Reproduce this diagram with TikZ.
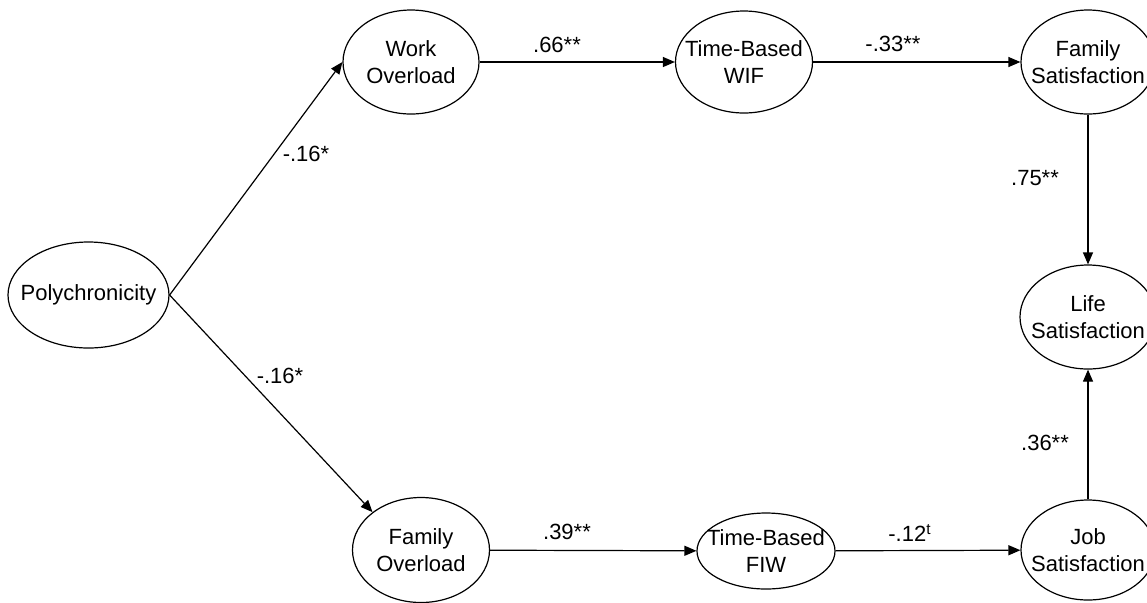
\documentclass[tikz,border=0pt]{standalone}
\usepackage{fontspec}
\setmainfont{Liberation Sans}
\usetikzlibrary{shapes.geometric,arrows.meta}
\begin{document}
\begin{tikzpicture}[x=0.5pt,y=-0.5pt,
  lat/.style={ellipse,draw,line width=0.6pt,inner xsep=-16pt,inner ysep=0pt,align=center,
              font=\fontsize{11}{13.3}\selectfont},
  pathline/.style={draw,line width=0.6pt,-{Triangle[length=6pt,width=5pt]}},
  coef/.style={font=\fontsize{11}{13.3}\selectfont,inner sep=0pt}]
\useasboundingbox (0,0) rectangle (1147,602);
\node[lat,minimum width=80.5pt,minimum height=53pt] (poly) at (88.5,295) {Polychronicity};
\node[lat,minimum width=68pt,minimum height=52pt] (work) at (411,62) {Work\\Overload};
\node[lat,minimum width=68.5pt,minimum height=51pt] (wif) at (744,62) {Time-Based\\WIF};
\node[lat,minimum width=67pt,minimum height=52pt] (famsat) at (1088,62) {Family\\Satisfaction};
\node[lat,minimum width=68pt,minimum height=52pt] (life) at (1088,317) {Life\\Satisfaction};
\node[lat,minimum width=68.5pt,minimum height=52.5pt] (famover) at (421,550) {Family\\Overload};
\node[lat,minimum width=69pt,minimum height=38pt] (fiw) at (766,551) {Time-Based\\FIW};
\node[lat,minimum width=67pt,minimum height=50pt] (job) at (1088,550) {Job\\Satisfaction};

\draw[pathline] (poly.east) -- (work.west);
\draw[pathline] (poly.east) -- (famover.142);
\draw[pathline] (work) -- (wif);
\draw[pathline] (wif) -- (famsat);
\draw[pathline] (famover) -- (fiw);
\draw[pathline] (fiw) -- (job);
\draw[pathline] (famsat) -- (life);
\draw[pathline] (job) -- (life);

\node[coef] (c1) at (306,154) {-.16*};
\node[coef] (c2) at (280,376) {-.16*};
\node[coef] (c3) at (557,45) {.66**};
\node[coef] (c4) at (893,44) {-.33**};
\node[coef] (c5) at (567,532) {.39**};
\node[coef] (c6) at (910,533) {-.12\textsuperscript{t}};
\node[coef] (c7) at (1035,178) {.75**};
\node[coef] (c8) at (1045,443) {.36**};
\end{tikzpicture}
\end{document}
